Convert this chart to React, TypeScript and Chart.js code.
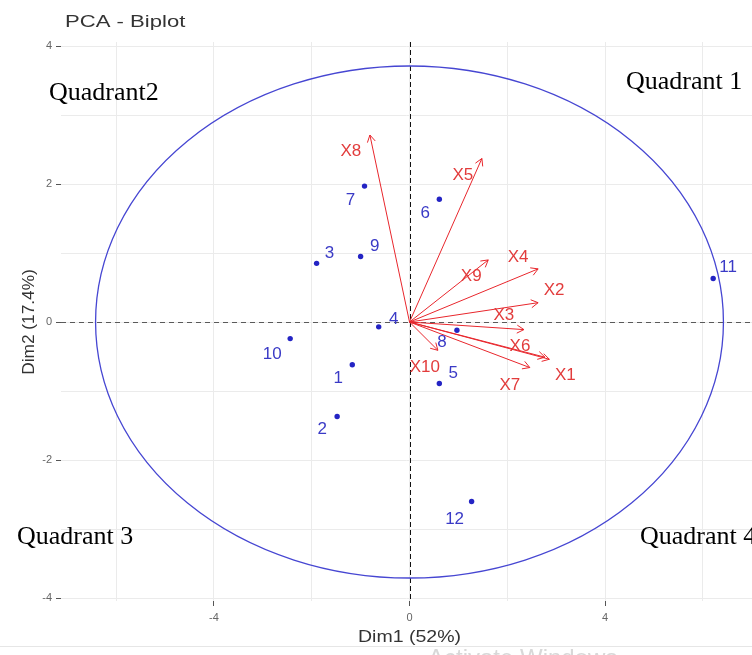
import React, { useEffect, useRef } from "react";
import { Chart, registerables } from "chart.js";

Chart.register(...registerables);

// ---------- data ----------
const TITLE = "PCA - Biplot";
const X_TITLE = "Dim1 (52%)";
const Y_TITLE = "Dim2 (17.4%)";

const IND_LABELS = ["1", "2", "3", "4", "5", "6", "7", "8", "9", "10", "11", "12"];
const IND_X = [-1.17, -1.48, -1.9, -0.63, 0.61, 0.61, -0.92, 0.97, -1.0, -2.44, 6.21, 1.27];
const IND_Y = [-0.62, -1.37, 0.85, -0.07, -0.89, 1.78, 1.97, -0.12, 0.95, -0.24, 0.63, -2.6];

const VAR_LABELS = ["X1", "X2", "X3", "X4", "X5", "X6", "X7", "X8", "X9", "X10"];
const VAR_X = [2.86, 2.63, 2.34, 2.63, 1.48, 2.77, 2.46, -0.81, 1.61, 0.58];
const VAR_Y = [-0.54, 0.28, -0.11, 0.77, 2.37, -0.51, -0.66, 2.71, 0.9, -0.41];

const X_TICK_LABELS = [-4, 0, 4];
const Y_TICK_LABELS = [-4, -2, 0, 2, 4];

const CIRCLE_RX = 6.42;
const CIRCLE_RY = 3.71;

const QUADRANT_LABELS = ["Quadrant 1", "Quadrant2", "Quadrant 3", "Quadrant 4"];

// ---------- layout / style (not data) ----------
const W = 752;
const H = 655;
const X_MIN = -7.127;
const X_MAX = 7.004;
const Y_MIN = -4.043;
const Y_MAX = 4.058;

// label offsets in pixels from the mark
const IND_LABEL_OFFSETS: [number, number][] = [
  [-14, 14], [-15, 13], [13, -10], [15, -8], [14, -10], [-14, 14],
  [-14, 14], [-15, 12], [14, -10], [-18, 16], [15, -11], [-17, 18],
];
const VAR_LABEL_OFFSETS: [number, number][] = [
  [16, 16], [16, -12], [-20, -14], [-20, -12], [-19, 17],
  [-25, -11], [-20, 18], [-19, 16], [-17, 16], [-13, 17],
];
const QUADRANT_POS: [number, number][] = [
  [626, 89], [49, 100], [17, 544], [640, 544],
];

const SANS = "Arial, 'Liberation Sans', Helvetica, sans-serif";
const SERIF = "'Times New Roman', 'Liberation Serif', serif";
const IND_COLOR = "#2424c4";
const IND_TEXT = "#3a3ac6";
const VAR_COLOR = "#e8262c";
const VAR_TEXT = "#e23c3c";

const biplotPlugin = {
  id: "biplot",
  beforeDatasetsDraw(chart: any) {
    const { ctx, chartArea, scales } = chart;
    const xs = scales.x;
    const ys = scales.y;
    const x0 = xs.getPixelForValue(0);
    const y0 = ys.getPixelForValue(0);
    ctx.save();
    // dashed reference lines
    ctx.lineWidth = 1;
    ctx.setLineDash([5, 4]);
    ctx.strokeStyle = "#5a5a5a";
    ctx.beginPath();
    ctx.moveTo(chartArea.left, Math.round(y0) + 0.5);
    ctx.lineTo(chartArea.right, Math.round(y0) + 0.5);
    ctx.stroke();
    ctx.strokeStyle = "#111";
    ctx.setLineDash([5, 3]);
    ctx.beginPath();
    ctx.moveTo(Math.round(x0) + 0.5, chartArea.top);
    ctx.lineTo(Math.round(x0) + 0.5, chartArea.bottom);
    ctx.stroke();
    ctx.setLineDash([]);
    // correlation circle
    const rx = xs.getPixelForValue(CIRCLE_RX) - x0;
    const ry = y0 - ys.getPixelForValue(CIRCLE_RY);
    ctx.strokeStyle = "#4646d2";
    ctx.lineWidth = 1.3;
    ctx.beginPath();
    ctx.ellipse(x0, y0, rx, ry, 0, 0, Math.PI * 2);
    ctx.stroke();
    ctx.restore();
  },
  afterDatasetsDraw(chart: any) {
    const { ctx, scales } = chart;
    const xs = scales.x;
    const ys = scales.y;
    const x0 = xs.getPixelForValue(0);
    const y0 = ys.getPixelForValue(0);
    ctx.save();
    // arrow heads
    ctx.strokeStyle = VAR_COLOR;
    ctx.lineWidth = 1;
    VAR_X.forEach((vx, i) => {
      const tx = xs.getPixelForValue(vx);
      const ty = ys.getPixelForValue(VAR_Y[i]);
      const ang = Math.atan2(ty - y0, tx - x0);
      const len = 8;
      const spread = Math.PI / 6;
      ctx.beginPath();
      ctx.moveTo(tx - len * Math.cos(ang - spread), ty - len * Math.sin(ang - spread));
      ctx.lineTo(tx, ty);
      ctx.lineTo(tx - len * Math.cos(ang + spread), ty - len * Math.sin(ang + spread));
      ctx.stroke();
    });
    // variable labels
    ctx.font = `17px ${SANS}`;
    ctx.textAlign = "center";
    ctx.textBaseline = "middle";
    ctx.fillStyle = VAR_TEXT;
    VAR_LABELS.forEach((lab, i) => {
      const tx = xs.getPixelForValue(VAR_X[i]);
      const ty = ys.getPixelForValue(VAR_Y[i]);
      const [dx, dy] = VAR_LABEL_OFFSETS[i];
      ctx.fillText(lab, tx + dx, ty + dy);
    });
    // individual labels
    ctx.fillStyle = IND_TEXT;
    IND_LABELS.forEach((lab, i) => {
      const px = xs.getPixelForValue(IND_X[i]);
      const py = ys.getPixelForValue(IND_Y[i]);
      const [dx, dy] = IND_LABEL_OFFSETS[i];
      ctx.fillText(lab, px + dx, py + dy);
    });

    // title
    ctx.fillStyle = "#333";
    ctx.textAlign = "left";
    ctx.textBaseline = "alphabetic";
    ctx.save();
    ctx.translate(65, 27);
    ctx.scale(1.3, 1);
    ctx.font = `17px ${SANS}`;
    ctx.fillText(TITLE, 0, 0);
    ctx.restore();

    // x axis title
    ctx.save();
    ctx.translate(x0, 641.5);
    ctx.scale(1.22, 1);
    ctx.font = `16px ${SANS}`;
    ctx.textAlign = "center";
    ctx.fillText(X_TITLE, 0, 0);
    ctx.restore();

    // y axis title
    ctx.save();
    ctx.translate(33.5, y0);
    ctx.rotate(-Math.PI / 2);
    ctx.scale(1.08, 1);
    ctx.font = `16px ${SANS}`;
    ctx.textAlign = "center";
    ctx.fillText(Y_TITLE, 0, 0);
    ctx.restore();

    // quadrant annotations
    ctx.fillStyle = "#000";
    ctx.font = `26px ${SERIF}`;
    ctx.textAlign = "left";
    QUADRANT_LABELS.forEach((q, i) => {
      const [qx, qy] = QUADRANT_POS[i];
      ctx.fillText(q, qx, qy);
    });

    // faint bottom line and watermark
    ctx.strokeStyle = "#e6e6e6";
    ctx.lineWidth = 1;
    ctx.beginPath();
    ctx.moveTo(0, 646.5);
    ctx.lineTo(W, 646.5);
    ctx.stroke();
    ctx.fillStyle = "#d8d8d8";
    ctx.font = `24px ${SANS}`;
    ctx.fillText("Activate Windows", 428, 666);
    ctx.restore();
  },
};

export default function App() {
  const ref = useRef<HTMLCanvasElement | null>(null);

  useEffect(() => {
    if (!ref.current) return;
    const gridColor = "#ebebeb";
    const datasets: any[] = VAR_LABELS.map((lab, i) => ({
      label: lab,
      data: [
        { x: 0, y: 0 },
        { x: VAR_X[i], y: VAR_Y[i] },
      ],
      showLine: true,
      borderColor: VAR_COLOR,
      borderWidth: 1,
      pointRadius: 0,
      fill: false,
    }));
    datasets.push({
      label: "individuals",
      data: IND_X.map((x, i) => ({ x, y: IND_Y[i] })),
      pointRadius: 2.7,
      pointBackgroundColor: IND_COLOR,
      pointBorderWidth: 0,
      showLine: false,
    });

    const chart = new Chart(ref.current, {
      type: "scatter",
      data: { datasets },
      options: {
        animation: false,
        responsive: false,
        maintainAspectRatio: false,
        layout: { autoPadding: false, padding: { top: 42, left: 0, right: 0, bottom: 0 } },
        plugins: {
          legend: { display: false },
          tooltip: { enabled: false },
          title: { display: false },
        },
        scales: {
          x: {
            type: "linear",
            min: X_MIN,
            max: X_MAX,
            afterFit: (s: any) => {
              s.height = 54;
            },
            border: { display: false },
            grid: {
              color: gridColor,
              lineWidth: 1,
              drawTicks: true,
              tickLength: 5,
              tickWidth: 1,
              tickColor: (c: any) =>
                c.tick && X_TICK_LABELS.includes(c.tick.value) ? "#555" : "rgba(0,0,0,0)",
            },
            ticks: {
              stepSize: 2,
              includeBounds: false,
              autoSkip: false,
              maxRotation: 0,
              padding: 5,
              color: "#666",
              font: { family: SANS, size: 11 },
              callback: (v: any) => (X_TICK_LABELS.includes(v) ? String(v) : ""),
            },
          },
          y: {
            type: "linear",
            min: Y_MIN,
            max: Y_MAX,
            afterFit: (s: any) => {
              s.width = 61;
            },
            border: { display: false },
            grid: {
              color: gridColor,
              lineWidth: 1,
              drawTicks: true,
              tickLength: 5,
              tickWidth: 1,
              tickColor: (c: any) =>
                c.tick && Y_TICK_LABELS.includes(c.tick.value) ? "#555" : "rgba(0,0,0,0)",
            },
            ticks: {
              stepSize: 1,
              includeBounds: false,
              autoSkip: false,
              padding: 4,
              color: "#666",
              font: { family: SANS, size: 11 },
              callback: (v: any) => (Y_TICK_LABELS.includes(v) ? String(v) : ""),
            },
          },
        },
      } as any,
      plugins: [biplotPlugin],
    });
    return () => chart.destroy();
  }, []);

  return (
    <div style={{ position: "absolute", left: 0, top: 0, width: W, height: H, background: "#fff" }}>
      <canvas ref={ref} width={W} height={H} style={{ width: W, height: H, display: "block" }} />
    </div>
  );
}
